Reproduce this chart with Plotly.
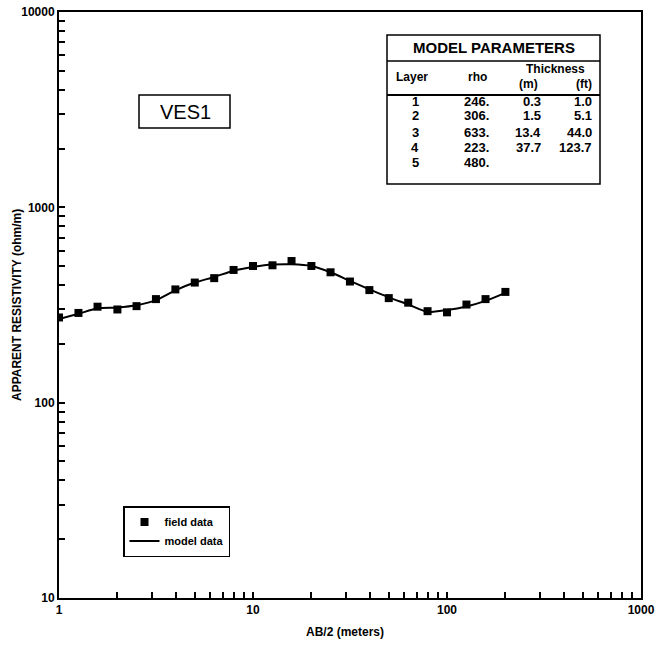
import plotly.graph_objects as go

# ---- data ----
ab2 = [1, 1.26, 1.58, 2, 2.51, 3.16, 3.98, 5.01, 6.31, 7.94, 10, 12.6, 15.8, 20,
       25.1, 31.6, 39.8, 50.1, 63.1, 79.4, 100, 126, 158, 200]
field_rho = [273, 288, 310, 300, 312, 339, 380, 412, 434, 478, 501, 505, 531, 501,
             465, 417, 377, 343, 325, 294, 290, 318, 339, 369]
model_rho = [268, 285, 304, 307, 315, 335, 376, 412, 440, 474, 495, 509, 511, 501,
             465, 420, 380, 346, 318, 291, 298, 311, 332, 365]

layers = ["1", "2", "3", "4", "5"]
rho = ["246.", "306.", "633.", "223.", "480."]
thick_m = ["0.3", "1.5", "13.4", "37.7", ""]
thick_ft = ["1.0", "5.1", "44.0", "123.7", ""]

x_major = [1, 10, 100, 1000]
y_major = [10, 100, 1000, 10000]

FONT = "Liberation Sans, Arial, sans-serif"

# plot-area geometry in page pixels
L, R, T, B = 59, 641, 12, 598
W, H = 659, 648


def px(x):
    return (x - L) / (R - L)


def py(y):
    return (B - y) / (B - T)


def log_ticks(majors):
    vals, texts = [], []
    for i, m in enumerate(majors):
        vals.append(m)
        texts.append(f"<b>{m}</b>")
        if i < len(majors) - 1:
            for k in range(2, 10):
                vals.append(m * k)
                texts.append("")
    return vals, texts


xv, xt = log_ticks(x_major)
yv, yt = log_ticks(y_major)

fig = go.Figure()
fig.add_trace(go.Scatter(x=ab2, y=model_rho, mode="lines", name="<b>model data</b>",
                         line=dict(color="black", width=2, shape="spline", smoothing=0.6),
                         legendrank=2))
fig.add_trace(go.Scatter(x=ab2, y=field_rho, mode="markers", name="<b>field data</b>",
                         marker=dict(symbol="square", size=8, color="black"),
                         legendrank=1))

fig.update_xaxes(type="log", range=[0, 3], tickvals=xv, ticktext=xt, automargin=False,
                 ticks="inside", ticklen=6, tickwidth=1.5, tickcolor="black",
                 showline=True, linecolor="black", linewidth=2, mirror=True,
                 showgrid=False, zeroline=False,
                 tickfont=dict(family=FONT, size=12, color="black"))
fig.update_yaxes(type="log", range=[1, 4], tickvals=yv, ticktext=yt, automargin=False,
                 ticks="inside", ticklen=6, tickwidth=1.5, tickcolor="black",
                 showline=True, linecolor="black", linewidth=2, mirror=True,
                 showgrid=False, zeroline=False,
                 tickfont=dict(family=FONT, size=12, color="black"))

shapes = []
annotations = []


def box(x0, y0, x1, y1, w=1.5):
    shapes.append(dict(type="rect", xref="paper", yref="paper",
                       x0=px(x0), x1=px(x1), y0=py(y1), y1=py(y0),
                       line=dict(color="black", width=w), fillcolor="white",
                       layer="above"))


def hline(x0, x1, y, w=1.5):
    shapes.append(dict(type="line", xref="paper", yref="paper",
                       x0=px(x0), x1=px(x1), y0=py(y), y1=py(y),
                       line=dict(color="black", width=w)))


def text(x, y, s, size=12, xanchor="center", bold=True, angle=0):
    annotations.append(dict(xref="paper", yref="paper", x=px(x), y=py(y),
                            text=f"<b>{s}</b>" if bold else s, showarrow=False,
                            xanchor=xanchor, yanchor="middle", textangle=angle,
                            font=dict(family=FONT, size=size, color="black")))


# axis titles
text(345, 632, "AB/2 (meters)", size=12)
text(17, 305, "APPARENT RESISTIVITY (ohm/m)", size=12, angle=-90)

# VES1 label box
box(139, 95, 230, 128)
text(185, 112, "VES1", size=20, bold=False)

# model parameters table
box(387, 35, 600, 184)
hline(387, 600, 61)
hline(387, 600, 95, w=2)
text(494, 47, "MODEL PARAMETERS", size=15)
text(412, 77, "Layer", size=12)
text(477, 77, "rho", size=12)
text(555, 69, "Thickness", size=12)
text(528, 84, "(m)", size=12)
text(584, 84, "(ft)", size=12)
row_y = [101, 116, 132, 147, 163]
for i in range(len(layers)):
    text(415, row_y[i], layers[i], size=13)
    text(491, row_y[i], rho[i], size=13, xanchor="right")
    if thick_m[i]:
        text(543, row_y[i], thick_m[i], size=13, xanchor="right")
    if thick_ft[i]:
        text(594, row_y[i], thick_ft[i], size=13, xanchor="right")

fig.update_layout(
    width=W, height=H,
    margin=dict(l=L, r=W - R, t=T, b=H - B),
    paper_bgcolor="white", plot_bgcolor="white",
    showlegend=True,
    legend=dict(x=px(123), y=py(506), xanchor="left", yanchor="top",
                bordercolor="black", borderwidth=1.5, bgcolor="white",
                font=dict(family=FONT, size=11, color="black"),
                itemwidth=30, tracegroupgap=0),
    shapes=shapes, annotations=annotations,
)

fig.write_html("out.html", config={"displayModeBar": False},
               post_script="document.body.style.margin='0';document.body.style.overflow='hidden';")
